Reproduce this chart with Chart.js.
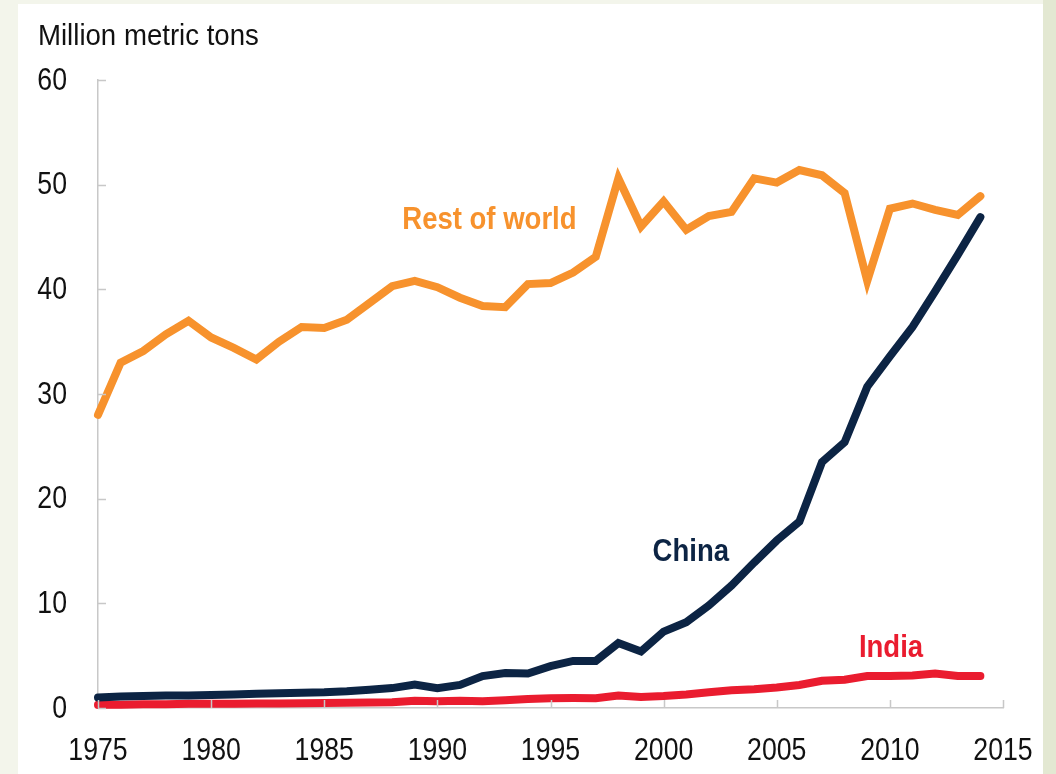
<!DOCTYPE html>
<html>
<head>
<meta charset="utf-8">
<script src="https://cdn.jsdelivr.net/npm/chart.js@4"></script>
<style>
    html, body { margin: 0; padding: 0; }
    body { width: 1056px; height: 774px; background: #f3f5eb; position: relative; overflow: hidden; }
    #panel { position: absolute; left: 18px; top: 4px; width: 1025px; height: 770px; background: #ffffff; }
    #right { position: absolute; left: 1043px; top: 0; width: 13px; height: 774px; background: #e3e8d2; }
    #wrap { position: absolute; left: 0; top: 0; width: 1056px; height: 774px; }
</style>
</head>
<body>
<div id="panel"></div>
<div id="right"></div>
<div id="wrap"><canvas id="steelChart" width="1056" height="774"></canvas></div>
<script>
// Steel production, million metric tons

const years = [1975, 1976, 1977, 1978, 1979, 1980, 1981, 1982, 1983, 1984,
    1985, 1986, 1987, 1988, 1989, 1990, 1991, 1992, 1993, 1994,
    1995, 1996, 1997, 1998, 1999, 2000, 2001, 2002, 2003, 2004,
    2005, 2006, 2007, 2008, 2009, 2010, 2011, 2012, 2013, 2014];

const restOfWorld = [28.0, 33.0, 34.1, 35.7, 37.0, 35.4, 34.4, 33.3, 35.0, 36.4,
    36.3, 37.1, 38.7, 40.3, 40.8, 40.2, 39.2, 38.4, 38.3, 40.5,
    40.6, 41.6, 43.1, 50.6, 46.0, 48.4, 45.7, 47.0, 47.4, 50.6,
    50.2, 51.4, 50.9, 49.2, 40.8, 47.7, 48.2, 47.6, 47.1, 48.9];

const china = [1.0, 1.1, 1.15, 1.2, 1.2, 1.25, 1.3, 1.35, 1.4, 1.45,
    1.5, 1.6, 1.75, 1.9, 2.25, 1.9, 2.2, 3.05, 3.35, 3.3,
    4.0, 4.5, 4.5, 6.2, 5.4, 7.3, 8.2, 9.8, 11.7, 13.9,
    16.0, 17.8, 23.5, 25.4, 30.7, 33.6, 36.4, 39.8, 43.3, 46.9];

const india = [0.3, 0.32, 0.35, 0.37, 0.4, 0.4, 0.4, 0.42, 0.43, 0.45,
    0.47, 0.5, 0.52, 0.55, 0.7, 0.65, 0.7, 0.65, 0.75, 0.85,
    0.93, 0.95, 0.93, 1.2, 1.05, 1.15, 1.3, 1.5, 1.7, 1.8,
    1.95, 2.2, 2.6, 2.7, 3.05, 3.05, 3.1, 3.3, 3.05, 3.05];

const yTicks = [0, 10, 20, 30, 40, 50, 60];
const xTicks = [1975, 1980, 1985, 1990, 1995, 2000, 2005, 2010, 2015];

// series name labels placed at data coordinates
const seriesLabels = [
    { text: 'Rest of world', x: 1992.3, y: 46.6, color: '#f7922d' },
    { text: 'China', x: 2001.2, y: 14.9, color: '#0c2444' },
    { text: 'India', x: 2010.05, y: 5.7, color: '#ea1c2f' }
];

const FONT = "'Liberation Sans', Arial, sans-serif";
const SQUEEZE = 0.86; // the source type is a narrow face

const toPoints = (vals) => years.map((yr, i) => ({ x: yr, y: vals[i] }));

// condensed text: squeeze horizontally around the anchor point
function narrowText(ctx, text, px, py, sx) {
    ctx.save();
    ctx.translate(px, py);
    ctx.scale(sx, 1);
    ctx.fillText(text, 0, 0);
    ctx.restore();
}

// inward tick marks, tick labels, axis title and line labels
const decorations = {
    id: 'decorations',
    afterDraw(chart) {
        const { ctx, scales: { x, y } } = chart;
        ctx.save();
        ctx.strokeStyle = '#c8c8c8';
        ctx.lineWidth = 1.5;
        ctx.beginPath();
        yTicks.forEach(v => {
            const py = Math.round(y.getPixelForValue(v)) + 0.5;
            ctx.moveTo(x.left, py);
            ctx.lineTo(x.left + 8, py);
        });
        xTicks.forEach(v => {
            const px = Math.round(x.getPixelForValue(v)) + 0.5;
            ctx.moveTo(px, y.bottom);
            ctx.lineTo(px, y.bottom - 8);
        });
        ctx.stroke();

        ctx.fillStyle = '#111111';
        ctx.textBaseline = 'middle';
        ctx.font = `31px ${FONT}`;

        ctx.textAlign = 'right';
        yTicks.forEach(v => narrowText(ctx, String(v), 67, y.getPixelForValue(v) + 1, SQUEEZE));

        ctx.textAlign = 'center';
        xTicks.forEach(v => narrowText(ctx, String(v), x.getPixelForValue(v), 751, SQUEEZE));

        ctx.font = `30px ${FONT}`;
        ctx.textAlign = 'left';
        narrowText(ctx, 'Million metric tons', 38, 37, 0.92);

        ctx.font = `bold 32px ${FONT}`;
        ctx.textAlign = 'center';
        seriesLabels.forEach(l => {
            ctx.fillStyle = l.color;
            narrowText(ctx, l.text, x.getPixelForValue(l.x), y.getPixelForValue(l.y), SQUEEZE);
        });
        ctx.restore();
    }
};

const ctx = document.getElementById('steelChart').getContext('2d');

new Chart(ctx, {
    type: 'line',
    data: {
        datasets: [
            {
                label: 'Rest of world',
                data: toPoints(restOfWorld),
                borderColor: '#f7922d',
                borderWidth: 8,
            },
            {
                label: 'China',
                data: toPoints(china),
                borderColor: '#0c2444',
                borderWidth: 8,
            },
            {
                label: 'India',
                data: toPoints(india),
                borderColor: '#ea1c2f',
                borderWidth: 8,
            }
        ]
    },
    options: {
        responsive: false,
        animation: false,
        clip: false,
        elements: {
            point: { radius: 0 },
            line: { tension: 0, borderCapStyle: 'round', borderJoinStyle: 'miter' }
        },
        layout: {
            padding: { left: 0, top: 80, right: 53, bottom: 0 }
        },
        plugins: {
            legend: { display: false },
            tooltip: { enabled: false }
        },
        scales: {
            x: {
                type: 'linear',
                min: 1975,
                max: 2015,
                afterFit: (scale) => { scale.height = 66; },
                afterBuildTicks: (scale) => { scale.ticks = xTicks.map(v => ({ value: v })); },
                grid: { display: false, drawTicks: false },
                border: { display: true, color: '#c8c8c8', width: 1.5 },
                ticks: { display: false }
            },
            y: {
                min: 0,
                max: 60,
                afterFit: (scale) => { scale.width = 98; },
                afterBuildTicks: (scale) => { scale.ticks = yTicks.map(v => ({ value: v })); },
                grid: { display: false, drawTicks: false },
                border: { display: true, color: '#c8c8c8', width: 1.5 },
                ticks: { display: false }
            }
        }
    },
    plugins: [decorations]
});
</script>
</body>
</html>
